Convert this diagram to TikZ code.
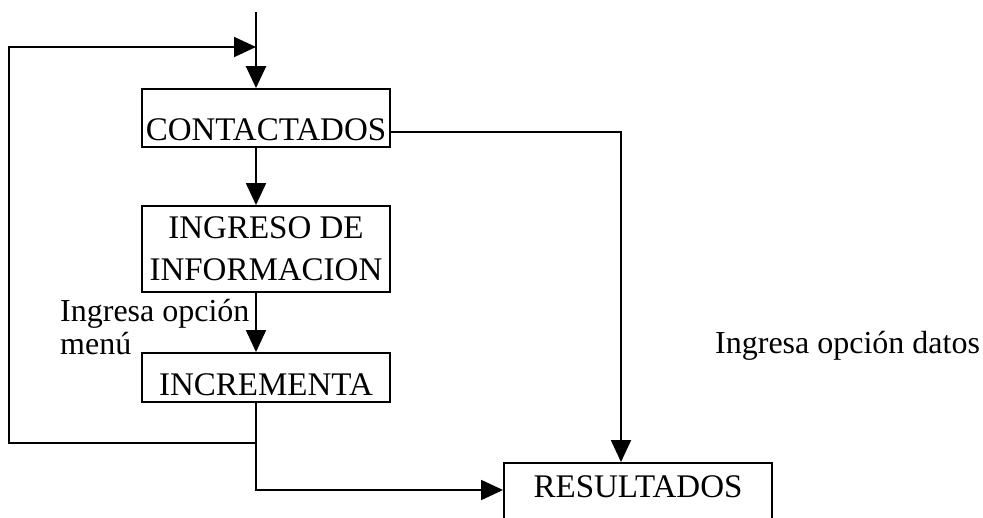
\documentclass[tikz,border=0pt]{standalone}
\usepackage{fontspec}
\setmainfont{Liberation Serif}
\usetikzlibrary{arrows.meta}
\begin{document}
\begin{tikzpicture}[x=1pt,y=-1pt,
  box/.style={draw, line width=1.9pt, inner xsep=0pt, inner ysep=0pt,
              minimum width=248pt, font=\fontsize{33}{42}\selectfont, align=center},
  lbl/.style={inner sep=0pt, font=\fontsize{32}{33}\selectfont, align=left},
  conn/.style={line width=1.9pt},
  arr/.style={conn, -{Triangle[length=22pt,width=20pt]}}]
\useasboundingbox[fill=white] (0,0) rectangle (983,517);
% boxes
\node[box, text height=51pt, text depth=7pt] (c) at (266,118) {CONTACTADOS};
\node[box, minimum height=86pt] (ing) at (266,249) {INGRESO DE\\INFORMACION};
\node[box, text height=42pt, text depth=7pt] (inc) at (266,377.5) {INCREMENTA};
\node[box, minimum width=268pt, text height=34pt, text depth=33pt] (res) at (638,496.5) {RESULTADOS};
% labels
\node[lbl, anchor=west] (lmenu) at (60,327) {Ingresa opción\\menú};
\node[lbl, anchor=base west] (ldatos) at (715,353) {Ingresa opción datos};
% coordinates
\coordinate (top) at (256,12);
\coordinate (jin) at (256,47);
\coordinate (jout) at (256,443);
\coordinate (lowturn) at (256,490);
\coordinate (loopbl) at (9,443);
\coordinate (looptl) at (9,47);
\coordinate (cr) at (621,132);
% connectors
\draw[arr, line width=2.6pt] (top) -- (top |- c.north);
\draw[arr] (c.south -| top) -- (ing.north -| top);
\draw[arr] (ing.south -| top) -- (inc.north -| top);
\draw[arr] (inc.south -| top) -- (lowturn) -- (lowturn -| res.west);
\draw[arr] (jout) -- (loopbl) -- (looptl) -- (jin);
\draw[arr] (c.east |- cr) -- (cr) -- (cr |- res.north);
\end{tikzpicture}
\end{document}
